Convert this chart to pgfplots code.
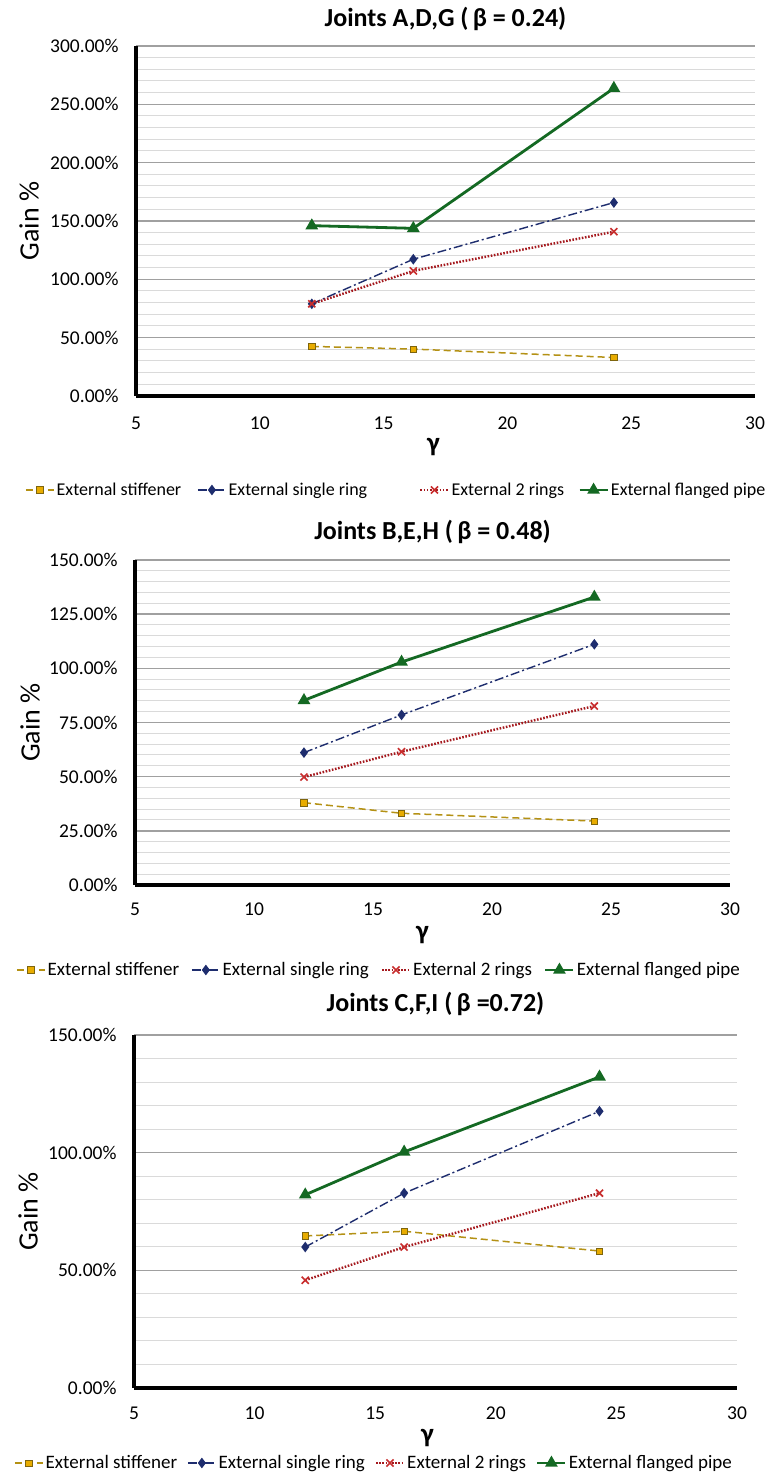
\documentclass[border=0pt]{standalone}
\usepackage{pgfplots}
\pgfplotsset{compat=1.18}
\usepackage{fontspec}
\setmainfont{Carlito}
\definecolor{stiff}{RGB}{180,145,20}
\definecolor{stiffm}{RGB}{232,172,0}
\definecolor{ring}{RGB}{30,45,110}
\definecolor{rings}{RGB}{165,25,30}
\definecolor{ringsm}{RGB}{200,45,45}
\definecolor{flange}{RGB}{20,105,35}
\definecolor{majgrid}{RGB}{160,160,160}
\definecolor{mingrid}{RGB}{218,218,218}
\pgfplotsset{
  gainaxis/.style={
    scale only axis, enlargelimits=false, clip=false,
    xmin=5, xmax=30, ymin=0,
    xtick={5,10,15,20,25,30}, xticklabels={5,10,15,20,25,30},
    axis lines*=left,
    axis line style={line width=3.8pt, black},
    major tick length=0pt, minor tick length=0pt,
    ymajorgrids, yminorgrids, minor y tick num=4,
    major grid style={majgrid, line width=1.4pt},
    minor grid style={mingrid, line width=1pt},
    ticklabel style={font=\fontsize{19.5}{21}\selectfont},
    yticklabel style={anchor=east, xshift=-14pt},
    title style={font=\bfseries\fontsize{26}{30}\selectfont, anchor=center},
    xlabel={γ},
    xlabel style={font=\bfseries\fontsize{27}{30}\selectfont, anchor=center},
    ylabel={Gain \%},
    ylabel style={font=\fontsize{28}{30}\selectfont, anchor=center},
    legend columns=4,
    legend cell align=left,
    legend image code/.code={\draw[mark repeat=2,mark phase=2,##1] plot coordinates {(0pt,0pt) (14pt,0pt) (28pt,0pt)};},
  },
  sstiff/.style={stiff, line width=1.5pt, dash pattern=on 7pt off 4pt, mark=square*, mark size=3.2pt, mark options={solid, fill=stiffm, draw=stiff!70!black, line width=0.6pt}},
  sring/.style={ring, line width=1.4pt, dash pattern=on 9pt off 3pt on 2pt off 3pt, mark=diamond*, mark size=4.2pt, mark options={solid, fill=ring, draw=ring}},
  srings/.style={rings, line width=2.4pt, dash pattern=on 1.6pt off 1.6pt, mark=x, mark size=5pt, mark options={solid, ringsm, line width=1.6pt}},
  sflange/.style={flange, line width=2.8pt, mark=triangle*, mark size=4.6pt, mark options={solid, fill=flange, draw=flange}},
}
\begin{document}
\begin{tikzpicture}
\useasboundingbox (0,0) rectangle (766pt,1476pt);
\fill[white] (0,0) rectangle (766pt,1476pt);
% ---------------- Chart 1
\begin{axis}[gainaxis,
  at={(136pt,1080pt)}, anchor=south west, width=619pt, height=350pt,
  ymax=300, ytick={0,50,100,150,200,250,300},
  yticklabels={0.00\%,50.00\%,100.00\%,150.00\%,200.00\%,250.00\%,300.00\%},
  xticklabel style={anchor=center, yshift=-27pt},
  title={Joints A,D,G (\,β = 0.24)},
  title style={at={([yshift=21pt]axis description cs:0.5,1)}},
  xlabel style={at={([xshift=-12pt,yshift=-51pt]axis description cs:0.5,0)}},
  ylabel style={at={([xshift=-107pt]axis description cs:0,0.5)}},
  legend style={draw=none, fill=none, at={([xshift=-114pt,yshift=-94pt]axis description cs:0,0)}, anchor=west,
    font=\fontsize{18}{20}\selectfont,
    /tikz/column 2/.style={column sep=14pt},
    /tikz/column 4/.style={column sep=50pt},
    /tikz/column 6/.style={column sep=12pt}},
]
\addplot[sstiff] coordinates {(12.1,42.5) (16.2,40.2) (24.3,33.0)};
\addlegendentry{External stiffener}
\addplot[sring] coordinates {(12.1,79.0) (16.2,117.2) (24.3,165.8)};
\addlegendentry{External single ring}
\addplot[srings] coordinates {(12.1,79.0) (16.2,107.2) (24.3,140.8)};
\addlegendentry{External 2 rings}
\addplot[sflange] coordinates {(12.1,146.0) (16.2,143.7) (24.3,263.8)};
\addlegendentry{External flanged pipe}
\end{axis}
% ---------------- Chart 2
\begin{axis}[gainaxis,
  at={(135pt,591pt)}, anchor=south west, width=595pt, height=325pt,
  ymax=150, ytick={0,25,50,75,100,125,150},
  yticklabels={0.00\%,25.00\%,50.00\%,75.00\%,100.00\%,125.00\%,150.00\%},
  xticklabel style={anchor=center, yshift=-24pt},
  title={Joints B,E,H (\,β = 0.48)},
  title style={at={([yshift=22pt]axis description cs:0.5,1)}},
  xlabel style={at={([xshift=-10pt,yshift=-50pt]axis description cs:0.5,0)}},
  ylabel style={at={([xshift=-105pt]axis description cs:0,0.5)}},
  legend style={draw=none, fill=none, at={([xshift=-122pt,yshift=-85pt]axis description cs:0,0)}, anchor=west,
    font=\fontsize{19}{21}\selectfont, /tikz/every even column/.append style={column sep=10pt}},
]
\addplot[sstiff] coordinates {(12.1,38.0) (16.2,33.1) (24.3,29.5)};
\addlegendentry{External stiffener}
\addplot[sring] coordinates {(12.1,61.1) (16.2,78.5) (24.3,111.1)};
\addlegendentry{External single ring}
\addplot[srings] coordinates {(12.1,49.8) (16.2,61.5) (24.3,82.6)};
\addlegendentry{External 2 rings}
\addplot[sflange] coordinates {(12.1,85.2) (16.2,102.9) (24.3,132.9)};
\addlegendentry{External flanged pipe}
\end{axis}
% ---------------- Chart 3
\begin{axis}[gainaxis,
  at={(134pt,88pt)}, anchor=south west, width=603pt, height=353pt,
  ymax=150, ytick={0,50,100,150},
  yticklabels={0.00\%,50.00\%,100.00\%,150.00\%},
  xticklabel style={anchor=center, yshift=-25pt},
  title={Joints C,F,I (\,β =0.72)},
  title style={at={([yshift=25pt]axis description cs:0.5,1)}},
  xlabel style={at={([xshift=-8pt,yshift=-50pt]axis description cs:0.5,0)}},
  ylabel style={at={([xshift=-106pt]axis description cs:0,0.5)}},
  legend style={draw=none, fill=none, at={([xshift=-123pt,yshift=-75pt]axis description cs:0,0)}, anchor=west,
    font=\fontsize{19}{21}\selectfont, /tikz/every even column/.append style={column sep=8pt}},
]
\addplot[sstiff] coordinates {(12.1,64.6) (16.2,66.6) (24.3,58.2)};
\addlegendentry{External stiffener}
\addplot[sring] coordinates {(12.1,59.9) (16.2,82.8) (24.3,117.6)};
\addlegendentry{External single ring}
\addplot[srings] coordinates {(12.1,45.8) (16.2,59.9) (24.3,82.8)};
\addlegendentry{External 2 rings}
\addplot[sflange] coordinates {(12.1,82.1) (16.2,100.3) (24.3,132.2)};
\addlegendentry{External flanged pipe}
\end{axis}
\end{tikzpicture}
\end{document}
